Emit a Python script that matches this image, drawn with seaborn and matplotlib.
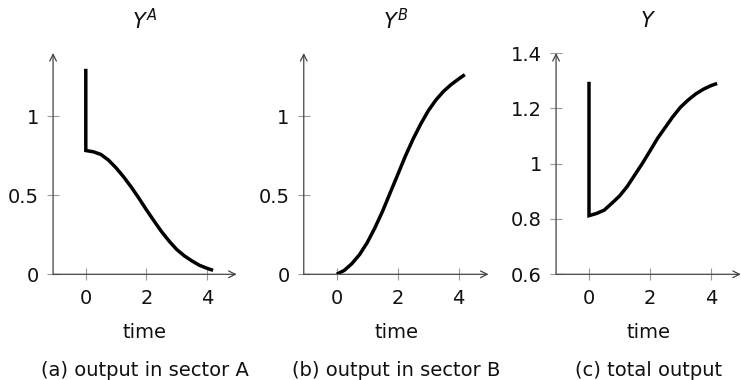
import numpy as np
import pandas as pd
import seaborn as sns
import matplotlib
matplotlib.use("Agg")
import matplotlib.pyplot as plt

sns.set_theme(style="white")
plt.rcParams['font.family'] = ['DejaVu Sans']
plt.rcParams['mathtext.fontset'] = 'dejavusans'

# ---- data ----
time_a = [0, 0, 0.25, 0.5, 0.75, 1.0, 1.25, 1.5, 1.75, 2.0, 2.25, 2.5, 2.75,
          3.0, 3.25, 3.5, 3.75, 4.0, 4.2]
ya = [1.30, 0.783, 0.775, 0.758, 0.722, 0.673, 0.616, 0.552, 0.482, 0.408,
      0.338, 0.27, 0.21, 0.157, 0.117, 0.085, 0.057, 0.038, 0.025]

time_b = [0, 0.25, 0.5, 0.75, 1.0, 1.25, 1.5, 1.75, 2.0, 2.25, 2.5, 2.75,
          3.0, 3.25, 3.5, 3.75, 4.0, 4.2]
yb = [0.0, 0.025, 0.068, 0.125, 0.2, 0.293, 0.397, 0.514, 0.63, 0.747,
      0.854, 0.949, 1.034, 1.102, 1.157, 1.20, 1.236, 1.263]

time_c = [0, 0, 0.25, 0.5, 0.75, 1.0, 1.25, 1.5, 1.75, 2.0, 2.25, 2.5, 2.75,
          3.0, 3.25, 3.5, 3.75, 4.0, 4.2]
yc = [1.296, 0.812, 0.82, 0.832, 0.857, 0.883, 0.917, 0.959, 1.001, 1.046,
      1.092, 1.131, 1.17, 1.204, 1.23, 1.252, 1.269, 1.282, 1.29]

titles = [r"$Y^A$", r"$Y^B$", r"$Y$"]
captions = ["(a) output in sector A", "(b) output in sector B", "(c) total output"]
xticks = [0, 2, 4]
yticks_ab = [0, 0.5, 1]
yticklabels_ab = ["0", "0.5", "1"]
yticks_c = [0.6, 0.8, 1.0, 1.2, 1.4]
yticklabels_c = ["0.6", "0.8", "1", "1.2", "1.4"]

W, H = 741, 380
fig = plt.figure(figsize=(W / 100, H / 100), dpi=100)

xlim = (-1.08, 4.98)
bottom_px, top_px = 274.3, 53.0
t0_px = [85.8, 336.7, 589.0]
scale = [30.3, 30.5, 30.5]

panels = [
    (time_a, ya, (0, 1.4), yticks_ab, yticklabels_ab),
    (time_b, yb, (0, 1.4), yticks_ab, yticklabels_ab),
    (time_c, yc, (0.6, 1.4), yticks_c, yticklabels_c),
]

axis_col = "#444444"
tick_col = "#999999"
txt_col = "#111111"
fs = 14

for i, (tx, ty, ylim, yt, ytl) in enumerate(panels):
    left_px = t0_px[i] + xlim[0] * scale[i]
    right_px = t0_px[i] + xlim[1] * scale[i]
    ax = fig.add_axes([left_px / W, 1 - bottom_px / H,
                       (right_px - left_px) / W, (bottom_px - top_px) / H])
    df = pd.DataFrame({"time": tx, "val": ty})
    sns.lineplot(data=df, x="time", y="val", sort=False, estimator=None,
                 color="black", lw=2.5, ax=ax, solid_capstyle="butt",
                 solid_joinstyle="miter")
    ax.set_xlim(*xlim)
    ax.set_ylim(*ylim)
    for s in ax.spines.values():
        s.set_visible(False)
    # axis lines with arrows
    ax.annotate("", xy=(1.0, 0), xytext=(0, 0), xycoords="axes fraction",
                arrowprops=dict(arrowstyle="->", lw=0.9, color=axis_col,
                                shrinkA=0, shrinkB=0), annotation_clip=False)
    ax.annotate("", xy=(0, 1.0), xytext=(0, 0), xycoords="axes fraction",
                arrowprops=dict(arrowstyle="->", lw=0.9, color=axis_col,
                                shrinkA=0, shrinkB=0), annotation_clip=False)
    ax.set_xticks(xticks)
    ax.set_xticklabels([str(v) for v in xticks])
    ax.set_yticks(yt)
    ax.set_yticklabels(ytl)
    ax.tick_params(axis="both", direction="inout", length=8.5, width=0.8,
                   color=tick_col, labelsize=fs, labelcolor=txt_col,
                   bottom=True, left=True, pad=6)
    ax.set_xlabel("time", fontsize=fs, color=txt_col, va="center")
    ax.xaxis.set_label_coords(0.5, -(332 - bottom_px) / (bottom_px - top_px))
    ax.set_ylabel("")
    ax.grid(False)
    ax.patch.set_alpha(0)
    cx = (left_px + right_px) / 2 / W
    fig.text(cx, 1 - 21 / H, titles[i], ha="center", va="center",
             fontsize=fs + 1, color=txt_col)
    fig.text(cx, 1 - 370 / H, captions[i], ha="center", va="center",
             fontsize=fs, color=txt_col)

fig.savefig("out.png", dpi=100)
